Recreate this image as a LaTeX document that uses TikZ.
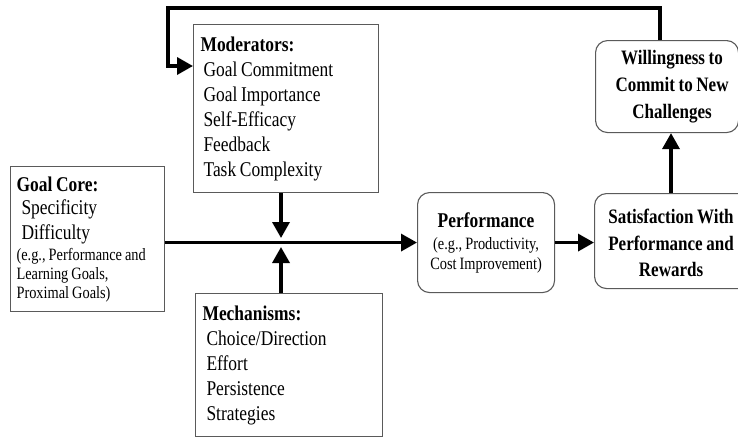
\documentclass[tikz,border=0pt]{standalone}
\usepackage{fontspec}
\setmainfont{Liberation Serif}[FakeStretch=0.83,WordSpace=0.85]
\usetikzlibrary{arrows.meta}
\definecolor{boxgray}{HTML}{5A5A5A}
\begin{document}
\begin{tikzpicture}[x=1pt,y=-1pt,
  box/.style={draw=boxgray, line width=1.1pt, anchor=north west, inner ysep=0pt,
    font=\fontsize{21}{25}\selectfont},
  sqbox/.style={box, align=flush left},
  rbox/.style={box, align=flush center, rounded corners=12pt},
  btext/.style={align=center, inner sep=0pt, font=\bfseries\fontsize{20.5}{27}\selectfont},
  arr/.style={line width=3.4pt, line join=miter, -{Triangle[length=16pt,width=17pt]}}
]
\clip (0,0) rectangle (738,437);
\fill[white] (0,0) rectangle (738,437);

% boxes
\node[sqbox, inner xsep=7pt, text width=171pt, minimum height=168pt] (mod) at (193,24)
  {\textbf{Moderators:}\\
   \hspace*{3pt}Goal Commitment\\
   \hspace*{3pt}Goal Importance\\
   \hspace*{3pt}Self-Efficacy\\
   \hspace*{3pt}Feedback\\
   \hspace*{3pt}Task Complexity};

\node[sqbox, inner xsep=6pt, text width=142pt, minimum height=145pt] (gc) at (10,166)
  {\textbf{Goal Core:}\\[-2pt]
   \hspace*{5pt}Specificity\\
   \hspace*{5pt}Difficulty\\[-4pt]
   {\fontsize{17.3}{19}\selectfont (e.g., Performance and}\\[-6pt]
   {\fontsize{17.3}{19}\selectfont Learning Goals,}\\[-6pt]
   {\fontsize{17.3}{19}\selectfont Proximal Goals)}};

\node[sqbox, inner xsep=7pt, text width=173pt, minimum height=143pt] (mech) at (195,293)
  {\textbf{Mechanisms:}\\
   \hspace*{4pt}Choice/Direction\\
   \hspace*{4pt}Effort\\
   \hspace*{4pt}Persistence\\
   \hspace*{4pt}Strategies};

\node[rbox, inner xsep=3pt, text width=131pt, minimum height=100pt,
      font=\fontsize{17.3}{20}\selectfont] (perf) at (417,192)
  {{\fontsize{21}{20}\selectfont\textbf{Performance}}\\[2pt]
   (e.g., Productivity,\\
   Cost Improvement)};

\node[rbox, minimum width=156pt, minimum height=95pt] (sat) at (594,193) {};
\node[btext, font=\bfseries\fontsize{20.5}{26.5}\selectfont] (sattxt) at ([xshift=-1.5pt,yshift=-2pt]sat.center)
  {Satisfaction With\\Performance and\\Rewards};

\node[rbox, minimum width=143pt, minimum height=92pt] (will) at (595,40) {};
\node[btext] (willtxt) at ([xshift=5pt]will.center)
  {Willingness to\\Commit to New\\Challenges};

% connectors
\coordinate (junc) at (281,242);
\coordinate (upx) at (671,0);
\coordinate (fbx) at (660,8);
\coordinate (fbl) at (168,66);

\draw[arr] (gc.east |- perf.west) -- (perf.west);
\draw[arr] (mod.south -| junc) -- ([yshift=4pt]junc);
\draw[arr] (mech.north -| junc) -- ([yshift=-5pt]junc);
\draw[arr] (perf.east) -- (perf.east -| sat.west);
\draw[arr] (sat.north -| upx) -- (will.south -| upx);
\draw[arr] (will.north -| fbx) -- (fbx) -| (fbl) -- (mod.west |- fbl);
\end{tikzpicture}
\end{document}
